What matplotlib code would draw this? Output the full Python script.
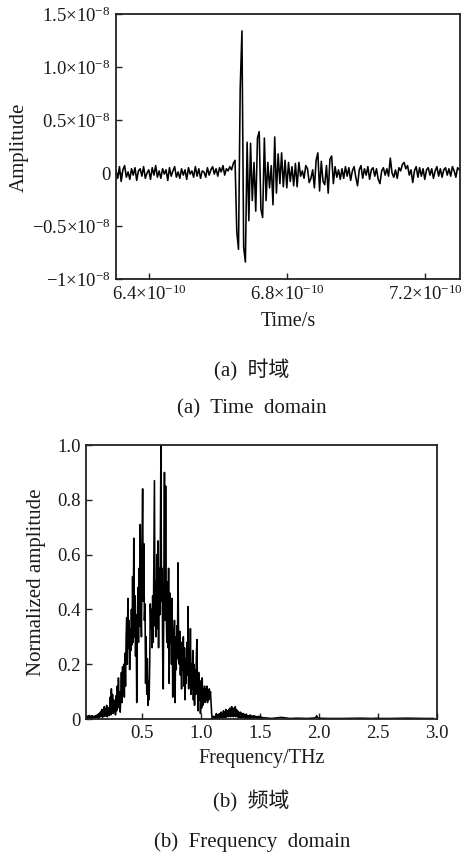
import numpy as np
import matplotlib
matplotlib.use("Agg")
import matplotlib.pyplot as plt
from matplotlib.ticker import FixedLocator, FixedFormatter

plt.rcParams['font.family'] = ['Liberation Serif', 'Noto Sans CJK SC', 'DejaVu Sans']
plt.rcParams['mathtext.fontset'] = 'custom'
plt.rcParams['mathtext.rm'] = 'Liberation Serif'
plt.rcParams['mathtext.it'] = 'Liberation Serif:italic'

# ---------------- time-domain data (amplitude in units of 1e-8) ----------------
t_start_ps = 630.4
t_step_ps = 0.5
amp_time = [
    0.02, -0.05, 0.06, -0.08, 0.03, 0.07, -0.04, 0.01, -0.06, 0.04,
    -0.02, 0.05, -0.07, 0.02, 0.04, -0.03, 0.06, -0.05, 0.00, 0.03,
    -0.06, 0.05, -0.02, 0.07, -0.04, 0.02, -0.05, 0.04, -0.01, 0.03,
    -0.07, 0.05, -0.03, 0.02, 0.06, -0.04, 0.01, -0.05, 0.04, -0.02,
    0.03, -0.06, 0.05, -0.01, 0.02, -0.04, 0.06, -0.03, 0.04, -0.05,
    0.02, 0.01, -0.04, 0.05, -0.02, 0.03, 0.06, -0.01, 0.04, -0.03,
    0.05, 0.01, 0.07, -0.02, 0.04, 0.02, 0.06, 0.03, 0.09,
    0.12, -0.55, -0.72, 0.80, 1.34, -0.70, -0.84, 0.29, -0.45, 0.28,
    -0.26, 0.10, -0.36, 0.33, 0.39, -0.34, -0.42, 0.33, -0.26, 0.10,
    -0.14, 0.07, -0.30, 0.34, -0.19, 0.18, -0.10, 0.19, -0.13, 0.12,
    -0.14, 0.10, -0.08, 0.06, -0.12, 0.09, -0.13, 0.10, -0.03, 0.02,
    -0.05, 0.07, 0.04, -0.09, -0.05, 0.03, -0.14, 0.12, 0.19, -0.17,
    0.11, -0.08, -0.11, 0.07, -0.19, 0.13, 0.16, -0.10, 0.06, -0.04,
    0.03, -0.06,
    0.04, -0.05, 0.06, -0.03, 0.05, -0.07, 0.02, 0.06, -0.04, -0.12,
    0.03, 0.07, -0.05, 0.04, -0.02, 0.06, -0.06, 0.03, 0.05, -0.03,
    0.04, -0.06, -0.10, 0.02, 0.05, -0.02, 0.04, -0.03, 0.14, 0.00,
    -0.04, 0.03, -0.05, 0.05, 0.02, 0.08, 0.10, 0.04, 0.07, -0.02,
    0.03, -0.09, 0.02, 0.06, -0.04, 0.05, -0.03, 0.04, -0.06, 0.03,
    0.05, -0.02, 0.04, -0.05, 0.02, 0.06, -0.03, 0.04, -0.04, 0.03,
    0.05, -0.02, 0.04, -0.03, 0.06, 0.02, -0.04, 0.05, 0.03,
]
time_ticks = [6.4e-10, 6.8e-10, 7.2e-10]
time_ticklabels = ['6.4×10$^{-10}$', '6.8×10$^{-10}$', '7.2×10$^{-10}$']
amp_ticks = [-1e-8, -0.5e-8, 0, 0.5e-8, 1.0e-8, 1.5e-8]
amp_ticklabels = ['−1×10$^{-8}$', '−0.5×10$^{-8}$', '0', '0.5×10$^{-8}$',
                  '1.0×10$^{-8}$', '1.5×10$^{-8}$']

# ---------------- frequency-domain data (normalized amplitude) ----------------
f_start = 0.025
f_step = 0.005
amp_freq = [
    0.012, 0.004, 0.010, 0.003, 0.011, 0.005, 0.013, 0.004, 0.009, 0.002,
    0.012, 0.004, 0.010, 0.006, 0.003, 0.011, 0.005, 0.013, 0.006, 0.015,
    0.005, 0.018, 0.004, 0.022, 0.008, 0.028, 0.010, 0.035, 0.006, 0.030,
    0.012, 0.045, 0.010, 0.038, 0.015, 0.050, 0.008, 0.042, 0.020, 0.012,
    0.030, 0.080, 0.015, 0.110, 0.030, 0.090, 0.020, 0.070, 0.025, 0.060,
    0.015, 0.085, 0.030, 0.120, 0.040, 0.150, 0.050, 0.100, 0.025, 0.080,
    0.17, 0.06, 0.19, 0.10, 0.20, 0.08, 0.24, 0.12, 0.30, 0.37,
    0.20, 0.44, 0.26, 0.36, 0.18, 0.33, 0.25, 0.40, 0.27, 0.52,
    0.28, 0.66, 0.30, 0.45, 0.23, 0.38, 0.06, 0.35, 0.48, 0.28,
    0.55, 0.34, 0.71, 0.38, 0.30, 0.62, 0.84, 0.43, 0.64, 0.36,
    0.42, 0.13, 0.30, 0.09, 0.22, 0.05, 0.14, 0.07, 0.20, 0.42,
    0.33, 0.40, 0.26, 0.45, 0.28, 0.55, 0.87, 0.34, 0.50, 0.30,
    0.60, 0.33, 0.65, 0.26, 0.55, 0.38, 0.62, 1.00, 0.43, 0.55,
    0.23, 0.11, 0.50, 0.90, 0.36, 0.85, 0.40, 0.28, 0.50, 0.26,
    0.55, 0.13, 0.46, 0.28, 0.38, 0.20, 0.44, 0.08, 0.33, 0.23,
    0.36, 0.06, 0.30, 0.18, 0.34, 0.22, 0.57, 0.26, 0.20, 0.32,
    0.16, 0.28, 0.11, 0.25, 0.18, 0.30, 0.12, 0.26, 0.07, 0.22,
    0.13, 0.28, 0.16, 0.41, 0.11, 0.24, 0.13, 0.33, 0.09, 0.20,
    0.11, 0.25, 0.07, 0.20, 0.05, 0.18, 0.09, 0.22, 0.29, 0.11,
    0.03, 0.17, 0.07, 0.14, 0.02, 0.10, 0.04, 0.15, 0.05, 0.11,
    0.07, 0.12, 0.06, 0.11, 0.07, 0.12, 0.06, 0.10, 0.07, 0.11,
    0.08, 0.10, 0.06, 0.02, 0.00, 0.005, 0.01, 0.003, 0.00, 0.01,
    0.003, 0.02, 0.002, 0.015, 0.004, 0.018, 0.002, 0.02, 0.005, 0.025,
    0.006, 0.02, 0.004, 0.03, 0.008, 0.025, 0.006, 0.035, 0.007, 0.02,
    0.03, 0.008, 0.035, 0.01, 0.04, 0.008, 0.03, 0.045, 0.01, 0.035,
    0.008, 0.04, 0.012, 0.045, 0.008, 0.035, 0.01, 0.03, 0.006, 0.025,
    0.02, 0.005, 0.025, 0.004, 0.02, 0.006, 0.01, 0.02, 0.004, 0.015,
    0.003, 0.012, 0.018, 0.004, 0.002, 0.012, 0.003, 0.01, 0.015, 0.002,
    0.01, 0.012, 0.002, 0.01, 0.002, 0.012, 0.003, 0.006, 0.01, 0.002,
    0.008, 0.002, 0.006, 0.01, 0.002, 0.006, 0.002, 0.008, 0.002, 0.005,
]
freq_tail = [1.55, 1.60, 1.68, 1.75, 1.82, 1.90, 1.97, 1.98, 1.99, 2.08,
             2.20, 2.35, 2.45, 2.50, 2.51, 2.60, 2.75, 2.90, 2.97]
amp_tail = [0.004, 0.002, 0.006, 0.002, 0.003, 0.002, 0.004, 0.012, 0.003, 0.002,
            0.002, 0.003, 0.002, 0.003, 0.002, 0.002, 0.003, 0.002, 0.002]
freq_ticks = [0.5, 1.0, 1.5, 2.0, 2.5, 3.0]
freq_ticklabels = ['0.5', '1.0', '1.5', '2.0', '2.5', '3.0']
norm_ticks = [0, 0.2, 0.4, 0.6, 0.8, 1.0]
norm_ticklabels = ['0', '0.2', '0.4', '0.6', '0.8', '1.0']

# ---------------- build arrays ----------------
t = (t_start_ps + t_step_ps * np.arange(len(amp_time))) * 1e-12
a = np.array(amp_time) * 1e-8
f = np.concatenate([f_start + f_step * np.arange(len(amp_freq)), freq_tail])
s = np.concatenate([amp_freq, amp_tail])

W, H = 473, 855
fig = plt.figure(figsize=(W / 100, H / 100), dpi=100)

def box(l, top, r, b):
    return [l / W, 1 - b / H, (r - l) / W, (b - top) / H]

tick_fs = 13.5
xlabel_fs = 14.5
ylabel_fs = 15
cap_fs = 15

# top axes
ax1 = fig.add_axes(box(116, 14, 460, 279))
ax1.plot(t, a, color='black', lw=1.15)
ax1.set_xlim(6.304e-10, 7.301e-10)
ax1.set_ylim(-1e-8, 1.5e-8)
ax1.xaxis.set_major_locator(FixedLocator(time_ticks))
ax1.xaxis.set_major_formatter(FixedFormatter(time_ticklabels))
ax1.yaxis.set_major_locator(FixedLocator(amp_ticks))
ax1.yaxis.set_major_formatter(FixedFormatter(amp_ticklabels))

# bottom axes
ax2 = fig.add_axes(box(86, 445, 437, 719))
ax2.plot(f, s, color='black', lw=1.15)
ax2.set_xlim(0.025, 3.0)
ax2.set_ylim(0, 1.0)
ax2.xaxis.set_major_locator(FixedLocator(freq_ticks))
ax2.xaxis.set_major_formatter(FixedFormatter(freq_ticklabels))
ax2.yaxis.set_major_locator(FixedLocator(norm_ticks))
ax2.yaxis.set_major_formatter(FixedFormatter(norm_ticklabels))

for ax in (ax1, ax2):
    for sp in ax.spines.values():
        sp.set_linewidth(1.3)
        sp.set_color('#222222')
    ax.tick_params(direction='in', length=4, width=1, colors='#222222',
                   labelcolor='#1a1a1a', labelsize=tick_fs, pad=4)

def ftext(x, y, s, **kw):
    fig.text(x / W, 1 - y / H, s, ha='center', va='center', color='#1a1a1a', **kw)

ftext(288, 321, 'Time/s', fontsize=xlabel_fs)
ftext(19, 147, 'Amplitude', fontsize=ylabel_fs, rotation=90)
ftext(252, 370, '(a)  时域', fontsize=cap_fs)
ftext(252, 409, '(a)  Time  domain', fontsize=cap_fs)
ftext(262, 758, 'Frequency/THz', fontsize=xlabel_fs)
ftext(37, 582, 'Normalized amplitude', fontsize=ylabel_fs, rotation=90)
ftext(251, 801, '(b)  频域', fontsize=cap_fs)
ftext(252, 842, '(b)  Frequency  domain', fontsize=cap_fs)

fig.savefig('out.png', dpi=100)
